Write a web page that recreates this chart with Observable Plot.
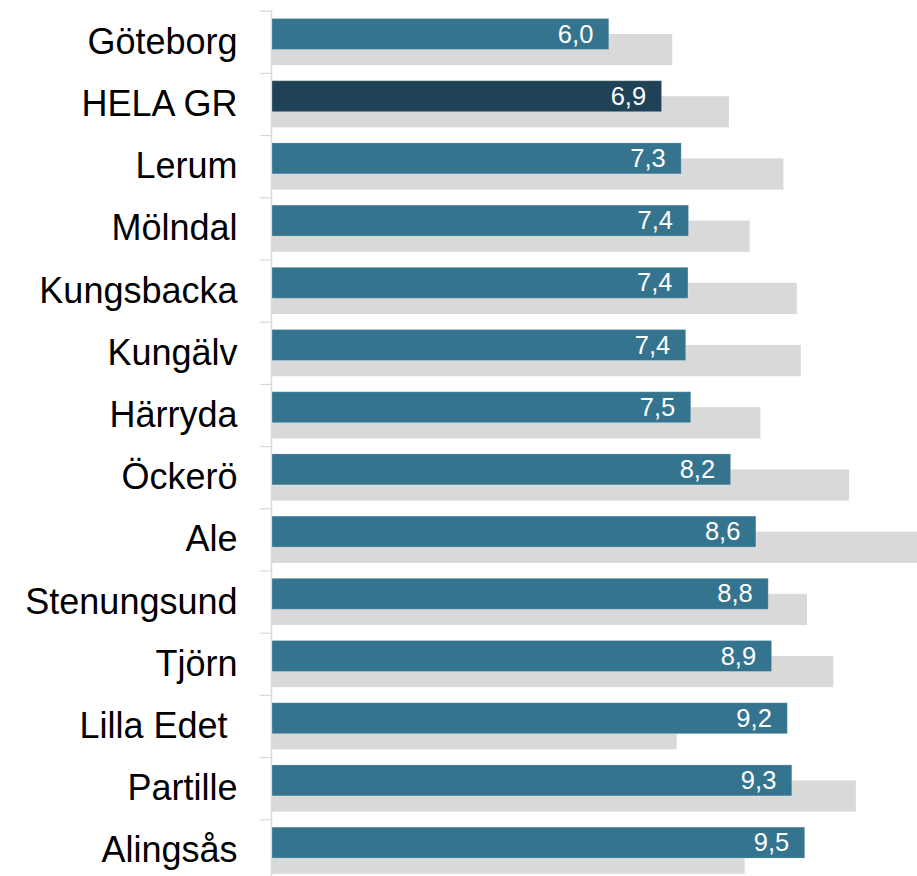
<!DOCTYPE html>
<html><head><meta charset="utf-8">
<script src="https://cdn.jsdelivr.net/npm/d3@7"></script>
<script src="https://cdn.jsdelivr.net/npm/@observablehq/plot@0.6"></script>
<style>body{margin:0;background:#fff}</style>
</head><body><div id="chart"></div>
<script>
const categories = ["Göteborg", "HELA GR", "Lerum", "Mölndal", "Kungsbacka", "Kungälv", "Härryda", "Öckerö", "Ale", "Stenungsund", "Tjörn", "Lilla Edet ", "Partille", "Alingsås"];
const values = [6.00, 6.94, 7.29, 7.42, 7.41, 7.37, 7.46, 8.17, 8.62, 8.84, 8.90, 9.18, 9.26, 9.49];
const comparison = [7.13, 8.14, 9.11, 8.51, 9.35, 9.42, 8.70, 10.28, 11.6, 9.53, 10.00, 7.21, 10.40, 8.42];
const highlight = "HELA GR";
const colors = {main: "#35748f", highlight: "#1f4256", comparison: "#d9d9d9", axis: "#d9d9d9"};

const rows = categories.map((c, i) => ({name: c, value: values[i], comparison: comparison[i]}));
const yRange = [10.7, 881.5];
const step = (yRange[1] - yRange[0]) / categories.length;
const fmt = v => v.toFixed(1).replace(".", ",");
const font = "'Liberation Sans', Arial, sans-serif";

const chart = Plot.plot({
  width: 917, height: 876,
  marginLeft: 272, marginRight: 0, marginTop: 10, marginBottom: 0,
  style: {fontFamily: font, background: "#fff"},
  x: {domain: [0, 11.49], axis: null},
  y: {domain: categories, range: yRange, padding: 0, round: false, axis: null},
  color: {type: "identity"},
  marks: [
    Plot.ruleX([0], {stroke: colors.axis, strokeWidth: 1.5, dx: -1}),
    Plot.barX(rows, {y: "name", x: "comparison", fill: colors.comparison, insetTop: 23.3, insetBottom: 7.7, clip: true}),
    Plot.barX(rows, {y: "name", x: "value", fill: d => d.name === highlight ? colors.highlight : colors.main,
      stroke: "rgba(255,255,255,0.25)", strokeWidth: 1, insetTop: 7.8, insetBottom: 23.4}),
    Plot.text(rows, {y: "name", x: "value", text: d => fmt(d.value), textAnchor: "end", dx: -16, dy: -7.8,
      fill: "white", fontSize: 25.5, fontFamily: font}),
    Plot.axisY({label: null, tickSize: 12, tickFormat: () => "", dy: -step / 2, stroke: colors.axis, strokeOpacity: 1, strokeWidth: 1.2}),
    Plot.axisY({label: null, tickSize: 0, tickPadding: 35, fontSize: 36, fill: "#000", fontFamily: font})
  ]
});
document.getElementById("chart").append(chart);
</script>
</body></html>
